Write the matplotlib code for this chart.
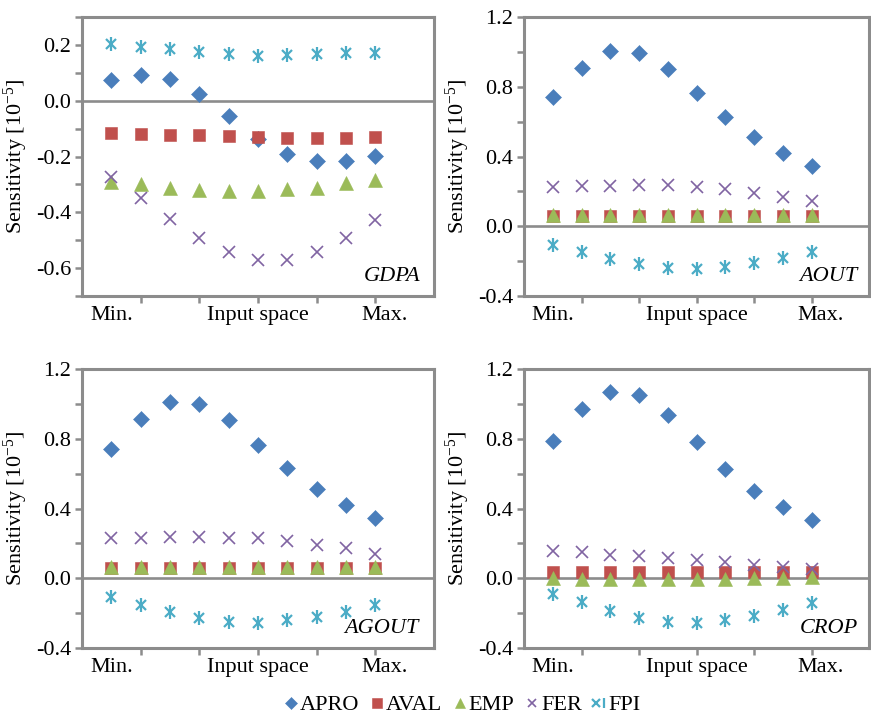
import matplotlib
matplotlib.use("Agg")
import matplotlib.pyplot as plt
import numpy as np
from matplotlib.legend_handler import HandlerTuple

plt.rcParams['font.family'] = 'serif'
plt.rcParams['font.serif'] = ['Liberation Serif', 'DejaVu Serif']
plt.rcParams['mathtext.fontset'] = 'custom'
plt.rcParams['mathtext.rm'] = 'Liberation Serif'
plt.rcParams['mathtext.it'] = 'Liberation Serif:italic'
plt.rcParams['axes.unicode_minus'] = False

series_names = ["APRO", "AVAL", "EMP", "FER", "FPI"]
x_points = list(range(1, 11))

gdpa_apro = [0.073, 0.091, 0.078, 0.023, -0.054, -0.139, -0.192, -0.217, -0.217, -0.197]
gdpa_aval = [-0.115, -0.121, -0.122, -0.124, -0.127, -0.129, -0.132, -0.132, -0.132, -0.131]
gdpa_emp = [-0.290, -0.297, -0.312, -0.319, -0.325, -0.325, -0.317, -0.312, -0.296, -0.285]
gdpa_fer = [-0.273, -0.349, -0.423, -0.492, -0.543, -0.571, -0.571, -0.544, -0.493, -0.429]
gdpa_fpi = [0.203, 0.194, 0.184, 0.173, 0.167, 0.162, 0.164, 0.168, 0.171, 0.170]

aout_apro = [0.739, 0.908, 1.006, 0.996, 0.899, 0.763, 0.628, 0.510, 0.418, 0.347]
aout_aval = [0.057, 0.057, 0.057, 0.057, 0.057, 0.057, 0.057, 0.057, 0.057, 0.057]
aout_emp = [0.062, 0.062, 0.063, 0.063, 0.063, 0.063, 0.063, 0.062, 0.062, 0.062]
aout_fer = [0.227, 0.229, 0.231, 0.235, 0.235, 0.223, 0.212, 0.193, 0.166, 0.143]
aout_fpi = [-0.105, -0.145, -0.189, -0.219, -0.240, -0.248, -0.235, -0.212, -0.183, -0.145]

agout_apro = [0.742, 0.914, 1.011, 1.002, 0.906, 0.767, 0.631, 0.512, 0.421, 0.346]
agout_aval = [0.060, 0.060, 0.060, 0.060, 0.060, 0.060, 0.060, 0.060, 0.060, 0.060]
agout_emp = [0.063, 0.063, 0.064, 0.064, 0.065, 0.065, 0.065, 0.064, 0.064, 0.064]
agout_fer = [0.229, 0.231, 0.235, 0.237, 0.233, 0.228, 0.212, 0.189, 0.172, 0.140]
agout_fpi = [-0.109, -0.155, -0.193, -0.229, -0.249, -0.254, -0.241, -0.224, -0.191, -0.155]

crop_apro = [0.789, 0.968, 1.068, 1.053, 0.936, 0.781, 0.628, 0.503, 0.408, 0.333]
crop_aval = [0.036, 0.036, 0.036, 0.036, 0.036, 0.036, 0.036, 0.036, 0.036, 0.036]
crop_emp = [0.002, -0.002, -0.004, -0.004, -0.004, -0.004, -0.003, 0.000, 0.003, 0.005]
crop_fer = [0.159, 0.149, 0.134, 0.126, 0.117, 0.107, 0.092, 0.077, 0.063, 0.054]
crop_fpi = [-0.090, -0.136, -0.186, -0.226, -0.249, -0.255, -0.239, -0.218, -0.180, -0.144]

panel_titles = ["GDPA", "AOUT", "AGOUT", "CROP"]
panel_data = [
    [gdpa_apro, gdpa_aval, gdpa_emp, gdpa_fer, gdpa_fpi],
    [aout_apro, aout_aval, aout_emp, aout_fer, aout_fpi],
    [agout_apro, agout_aval, agout_emp, agout_fer, agout_fpi],
    [crop_apro, crop_aval, crop_emp, crop_fer, crop_fpi],
]
x_tick_labels = ["Min.", "Input space", "Max."]

colors = ["#4A7EBB", "#C0504D", "#9BBB59", "#8064A2", "#4BACC6"]
gray = "#8C8C8C"
FONT = 'Liberation Serif'

W, H = 871, 718
fig = plt.figure(figsize=(W / 100, H / 100), dpi=100)

def frac(l, t, r, b):
    return [l / W, 1 - b / H, (r - l) / W, (b - t) / H]

rects = [frac(82, 17, 434, 296), frac(524, 17, 869, 296),
         frac(82, 369, 434, 648), frac(524, 369, 869, 648)]
ylims = [(-0.7, 0.3), (-0.4, 1.2), (-0.4, 1.2), (-0.4, 1.2)]
title_x = [0.962, 0.968, 0.956, 0.968]

def fmt(v):
    s = f"{v:.1f}"
    return "0.0" if s == "-0.0" else s

handles = None
for i, (rect, title, data, yl) in enumerate(zip(rects, panel_titles, panel_data, ylims)):
    ax = fig.add_axes(rect)
    ax.set_xlim(0, 12)
    ax.set_ylim(*yl)
    ax.axhline(0, color=gray, lw=1.9, zorder=1)
    h_apro, = ax.plot(x_points, data[0], 'D', ms=7.8, color=colors[0], mew=0.4, zorder=3)
    h_aval, = ax.plot(x_points, data[1], 's', ms=8.8, color=colors[1], mew=0.4, zorder=3)
    h_emp, = ax.plot(x_points, data[2], '^', ms=9.5, color=colors[2], mew=0.4, zorder=3)
    h_fer, = ax.plot(x_points, data[3], 'x', ms=8.5, color=colors[3], mew=1.2, zorder=3)
    h_fpi1, = ax.plot(x_points, data[4], 'x', ms=7.5, color=colors[4], mew=1.6, zorder=3)
    h_fpi2, = ax.plot(x_points, data[4], '|', ms=9.5, color=colors[4], mew=1.6, zorder=3)
    if handles is None:
        handles = [h_apro, h_aval, h_emp, h_fer, (h_fpi1, h_fpi2)]
    if yl[0] == -0.7:
        yt = np.round(np.arange(-0.7, 0.31, 0.1), 2)
        labs = [fmt(v) if abs(round(v * 10)) % 2 == 0 else "" for v in yt]
    else:
        yt = np.round(np.arange(-0.4, 1.21, 0.2), 2)
        labs = [fmt(v) if abs(round(v * 10)) % 4 == 0 else "" for v in yt]
    ax.set_yticks(yt)
    ax.set_yticklabels(labs, family=FONT, fontsize=16)
    ax.set_xticks([2, 4, 6, 8, 10])
    ax.set_xticklabels([])
    ax.tick_params(direction='out', length=5, width=1.8, color=gray, pad=3)
    for s in ax.spines.values():
        s.set_color(gray)
        s.set_linewidth(2.2)
    tr = ax.get_xaxis_transform()
    for xv, lab in zip([1, 6, 10.3], x_tick_labels):
        ax.text(xv, -0.035, lab, transform=tr, ha='center', va='top', fontsize=16, family=FONT)
    ax.set_ylabel("Sensitivity [10$^{\\mathrm{-5}}$]", fontsize=16, labelpad=4, family=FONT)
    ax.text(title_x[i], 0.035, title, transform=ax.transAxes, ha='right', va='bottom',
            fontsize=16, style='italic', family=FONT)

fig.legend(handles, series_names, loc='center', bbox_to_anchor=(462 / W, 1 - 705 / H),
           ncol=5, frameon=False, prop={'family': FONT, 'size': 16},
           handlelength=0.7, handletextpad=0.05,
           columnspacing=0.45, markerscale=0.75,
           handler_map={tuple: HandlerTuple(ndivide=None, pad=0)})

fig.savefig("out.png", dpi=100)
